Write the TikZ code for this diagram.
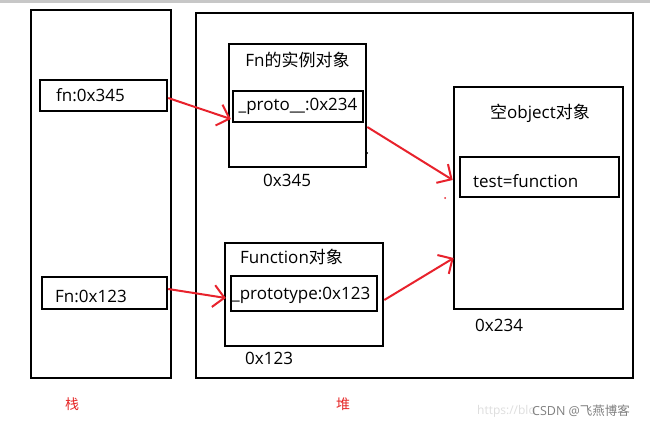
\documentclass[tikz,border=0pt]{standalone}
\usepackage{fontspec}
\setmainfont{Open Sans}
\newfontfamily\cjk{Noto Sans CJK SC}
\usetikzlibrary{arrows.meta,calc}
\definecolor{arrred}{RGB}{232,34,44}
\definecolor{lblred}{RGB}{230,40,40}
\begin{document}
\begin{tikzpicture}[x=1pt,y=-1pt,
  frame/.style={draw=black,line width=2.6pt,inner sep=0pt,rectangle},
  slot/.style={draw=black,line width=2.4pt,inner sep=0pt,rectangle},
  txt/.style={inner sep=0pt,font=\fontsize{17}{20}\selectfont},
  redarrow/.style={draw=arrred,line width=2pt,-{Straight Barb[length=11pt,width=22pt,line width=2pt]}},
  redlbl/.style={inner sep=0pt,text=lblred,font=\cjk\fontsize{14}{16}\selectfont}]
\useasboundingbox (0,0) rectangle (650,425);
\fill[white] (0,0) rectangle (650,425);
\fill[black!22] (0,0) rectangle (650,3);
% stack and heap
\node[frame,minimum width=140pt,minimum height=368pt] (stack) at (101,194) {};
\node[frame,minimum width=437pt,minimum height=365pt] (heap) at (414.5,195.5) {};
% stack slots
\node[slot,minimum width=127pt,minimum height=31pt] (fn) at (103.5,95.5) {};
\node[txt,anchor=west] (fnt) at (56,95.5) {fn:0x345};
\node[slot,minimum width=125pt,minimum height=32pt] (Fn) at (104.5,293) {};
\node[txt,anchor=west] (Fnt) at (55,296) {Fn:0x123};
% Fn instance
\node[frame,minimum width=137pt,minimum height=123pt] (inst) at (297.5,105.5) {};
\node[txt] (instt) at (297.5,60) {Fn{\cjk 的实例对象}};
\node[slot,minimum width=130pt,minimum height=31pt] (proto) at (298,106.5) {};
\node[txt] (protot) at (298,106.5) {\_proto\_\_:0x234};
\node[txt,anchor=west] (a345) at (263,180) {0x345};
% Function object
\node[frame,minimum width=158pt,minimum height=103pt] (func) at (304,294.5) {};
\node[txt,anchor=west] (funct) at (240,257) {Function{\cjk 对象}};
\node[slot,minimum width=146pt,minimum height=35pt] (ptype) at (304,293.5) {};
\node[txt,anchor=west] (ptypet) at (232,295) {\_prototype:0x123};
\node[txt,anchor=west] (a123) at (245,358) {0x123};
% empty object
\node[frame,minimum width=169pt,minimum height=222pt] (obj) at (538.5,198) {};
\node[txt] (objt) at (540,113) {{\cjk 空}object{\cjk 对象}};
\node[slot,minimum width=159pt,minimum height=40pt] (test) at (539.5,177) {};
\node[txt,anchor=west] (testt) at (473,181) {test=function};
\node[txt,anchor=west] (a234) at (475,325) {0x234};
% arrows
\draw[redarrow] ([yshift=-2.5pt]fn.east) -- ([xshift=-1pt,yshift=-12.5pt]proto.west);
\draw[redarrow] ([yshift=4pt]Fn.east) -- ([xshift=-4pt,yshift=-4.5pt]ptype.west);
\draw[redarrow] ([yshift=-21.5pt]inst.east) -- ([yshift=18pt]obj.west);
\draw[redarrow] ([yshift=-5.5pt]func.east) -- ([xshift=1pt,yshift=-60pt]obj.west);
% stray marks
\fill[black] (367,153) circle (1pt);
\fill[arrred] (445,198) circle (1pt);
% labels
\node[redlbl] (zhan) at (72,404) {栈};
\node[redlbl] (dui) at (343,404) {堆};
\node[inner sep=0pt,anchor=west,text=black!13,font=\fontsize{12}{14}\selectfont] (url) at (477,411) {https://blo};
\node[inner sep=0pt,anchor=west,text=black!50,font=\fontsize{12.5}{14}\selectfont] (csdn) at (532,411) {CSDN @{\cjk 飞燕博客}};
\end{tikzpicture}
\end{document}
